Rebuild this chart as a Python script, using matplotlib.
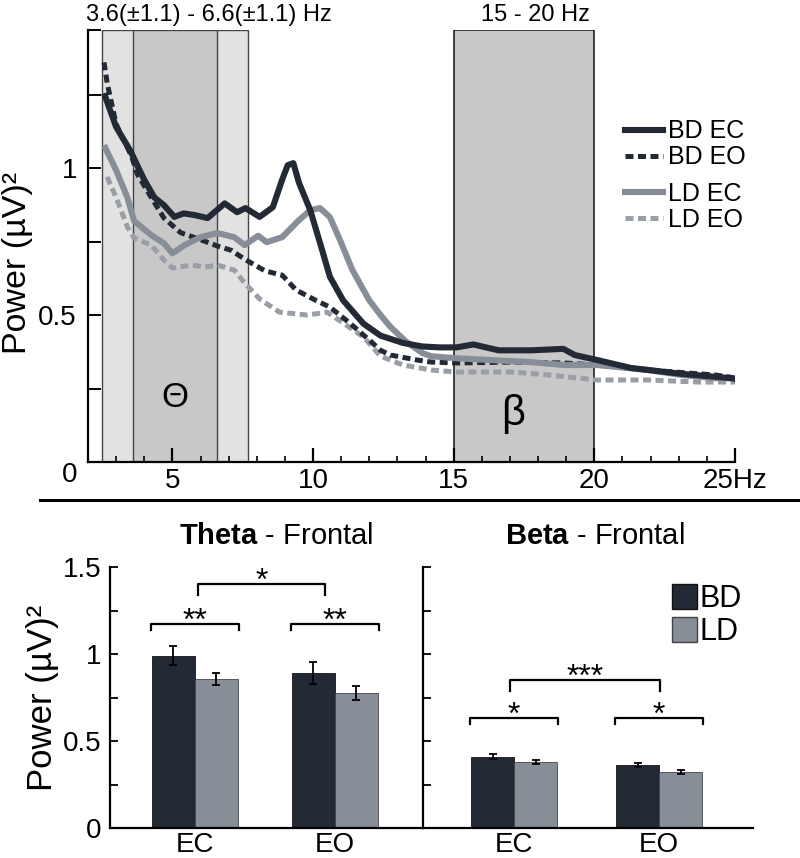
import matplotlib
matplotlib.use("Agg")
import matplotlib.pyplot as plt
from matplotlib.lines import Line2D
from matplotlib.patches import Patch
import numpy as np

plt.rcParams['font.family'] = ['Liberation Sans', 'DejaVu Sans']
plt.rcParams['mathtext.fontset'] = 'custom'
plt.rcParams['mathtext.rm'] = 'Liberation Sans'
plt.rcParams['mathtext.bf'] = 'Liberation Sans:bold'

# ---------------- data: spectra ----------------
bd_ec_hz = [2.57, 3.0, 3.5, 4.0, 4.36, 4.7, 5.07, 5.4, 5.8, 6.25, 6.86, 7.3, 7.6, 8.1, 8.57,
            8.9, 9.1, 9.3, 9.5, 9.9, 10.25, 10.6, 11.07, 11.8, 12.4, 13.2, 13.9, 14.5, 15.1,
            15.7, 16.6, 17.75, 18.9, 19.3, 20.1, 21.3, 23.1, 24.9, 25.1]
bd_ec_pw = [1.255, 1.14, 1.06, 0.96, 0.90, 0.874, 0.834, 0.846, 0.84, 0.83, 0.88, 0.85, 0.864,
            0.834, 0.867, 0.96, 1.01, 1.017, 0.95, 0.857, 0.745, 0.63, 0.55, 0.47, 0.43, 0.405,
            0.393, 0.39, 0.39, 0.40, 0.38, 0.38, 0.385, 0.364, 0.347, 0.32, 0.30, 0.285, 0.28]

bd_eo_hz = [2.57, 2.68, 3.0, 3.55, 3.75, 4.25, 4.7, 5.3, 5.9, 6.6, 7.1, 7.57, 8.3, 8.9, 9.4,
            10.1, 10.6, 11.3, 12.0, 12.4, 12.75, 13.7, 14.2, 15.1, 17.1, 18.9, 20.1, 21.9,
            24.3, 25.1]
bd_eo_pw = [1.36, 1.29, 1.15, 1.04, 0.98, 0.90, 0.83, 0.78, 0.76, 0.735, 0.72, 0.69, 0.65,
            0.636, 0.585, 0.55, 0.527, 0.473, 0.415, 0.38, 0.364, 0.347, 0.34, 0.337, 0.34,
            0.337, 0.33, 0.313, 0.296, 0.285]

ld_ec_hz = [2.57, 3.0, 3.4, 3.64, 4.25, 4.7, 5.0, 5.43, 6.0, 6.6, 7.2, 7.57, 8.05, 8.35, 8.9,
            9.5, 9.9, 10.25, 10.6, 10.96, 11.4, 12.0, 12.4, 12.75, 13.3, 13.9, 14.2, 15.1,
            16.3, 17.75, 18.9, 20.1, 21.9, 23.1, 24.3, 25.1]
ld_ec_pw = [1.078, 0.993, 0.90, 0.82, 0.772, 0.744, 0.71, 0.738, 0.765, 0.779, 0.765, 0.738,
            0.77, 0.748, 0.765, 0.823, 0.857, 0.864, 0.833, 0.755, 0.653, 0.55, 0.50, 0.46,
            0.41, 0.37, 0.36, 0.353, 0.347, 0.34, 0.33, 0.33, 0.313, 0.296, 0.285, 0.285]

ld_eo_hz = [2.68, 3.0, 3.4, 3.64, 4.25, 4.7, 5.0, 5.7, 6.14, 6.6, 7.2, 7.57, 8.1, 8.8, 9.8,
            10.5, 11.07, 11.8, 12.4, 13.2, 14.2, 15.1, 17.1, 18.4, 19.5, 20.1, 21.9, 23.7, 25.1]
ld_eo_pw = [0.97, 0.90, 0.80, 0.762, 0.738, 0.687, 0.66, 0.67, 0.663, 0.67, 0.653, 0.609,
            0.555, 0.51, 0.50, 0.51, 0.473, 0.425, 0.36, 0.33, 0.313, 0.306, 0.306, 0.296,
            0.285, 0.279, 0.279, 0.272, 0.272]

theta_band = (3.6, 6.6)
theta_sd = 1.1
beta_band = (15, 20)

# ---------------- data: bars ----------------
conditions = ["EC", "EO"]
groups = ["BD", "LD"]
theta_bd = [0.99, 0.89]
theta_bd_err = [0.055, 0.065]
theta_ld = [0.856, 0.776]
theta_ld_err = [0.037, 0.04]
beta_bd = [0.41, 0.36]
beta_bd_err = [0.015, 0.012]
beta_ld = [0.38, 0.32]
beta_ld_err = [0.01, 0.012]

theta_within_sig = ["**", "**"]
theta_cross_sig = "*"
beta_within_sig = ["*", "*"]
beta_cross_sig = "***"

DARK = "#232a35"
GRAY = "#878e97"
LGRAY = "#9a9fa7"

W, H = 800, 858
fig = plt.figure(figsize=(W / 100, H / 100), dpi=100)

# ---------------- top spectrum panel ----------------
ax = fig.add_axes([88 / W, (H - 462) / H, 647 / W, 432 / H])
ax.set_xlim(2, 25)
ax.set_ylim(0, 1.47)

lo, hi = theta_band
ax.axvspan(lo - theta_sd, hi + theta_sd, ymin=0, ymax=1, facecolor="#e2e2e2",
           edgecolor="#444444", lw=1.0, zorder=0)
ax.axvspan(lo, hi, facecolor="#c8c8c8", edgecolor="#444444", lw=1.0, zorder=0.5)
ax.axvspan(beta_band[0], beta_band[1], facecolor="#c8c8c8", edgecolor="#222222",
           lw=1.2, zorder=0)

dash = (0, (1.6, 0.9))
ax.plot(ld_eo_hz, ld_eo_pw, color=LGRAY, lw=3.6, ls=dash, zorder=2)
ax.plot(bd_eo_hz, bd_eo_pw, color=DARK, lw=3.6, ls=dash, zorder=3)
ax.plot(ld_ec_hz, ld_ec_pw, color=GRAY, lw=4.4, zorder=4, solid_capstyle='butt')
ax.plot(bd_ec_hz, bd_ec_pw, color=DARK, lw=4.4, zorder=5, solid_capstyle='butt')

for s in ["top", "right"]:
    ax.spines[s].set_visible(False)
for s in ["left", "bottom"]:
    ax.spines[s].set_linewidth(1.6)
    ax.spines[s].set_zorder(6)

ax.set_xticks([5, 10, 15, 20, 25])
ax.set_xticklabels(["5", "10", "15", "20", "25Hz"])
ax.set_xticks(list(range(3, 25)), minor=True)
ax.tick_params(axis="x", which="major", direction="in", length=10, width=1.6,
               labelsize=20, pad=4)
ax.tick_params(axis="x", which="minor", direction="in", length=4, width=1.2)
yt = [0, 0.25, 0.5, 0.75, 1.0, 1.25, 1.47]
ax.set_yticks(yt)
ax.set_yticklabels(["0", "", "0.5", "", "1", "", ""])
ax.tick_params(axis="y", direction="in", length=9, width=1.4, labelsize=20, pad=8)
ax.get_yticklabels()[0].set_va("top")
ax.set_ylabel("Power (µV)²", fontsize=24.5)
ax.yaxis.set_label_coords(-0.085, 0.46)

ax.text(6.3, 1.485, "3.6(±1.1) - 6.6(±1.1) Hz", ha="center", va="bottom", fontsize=17)
ax.text(17.9, 1.485, "15 - 20 Hz", ha="center", va="bottom", fontsize=17)
ax.text(5.1, 0.22, "Θ", ha="center", va="center", fontsize=25)
ax.text(17.1, 0.165, "β", ha="center", va="center", fontsize=30)

h1 = [Line2D([], [], color=DARK, lw=4.4), Line2D([], [], color=DARK, lw=3.6, ls=dash)]
h2 = [Line2D([], [], color=GRAY, lw=4.4), Line2D([], [], color=LGRAY, lw=3.6, ls=dash)]
leg_kw = dict(loc="upper left", frameon=False, fontsize=18, handlelength=1.5,
              handletextpad=0.2, labelspacing=0.08, borderaxespad=0, borderpad=0)
leg1 = ax.legend(h1, ["BD EC", "BD EO"], bbox_to_anchor=(0.83, 0.793), **leg_kw)
ax.add_artist(leg1)
ax.legend(h2, ["LD EC", "LD EO"], bbox_to_anchor=(0.83, 0.648), **leg_kw)

# separator line
fig.add_artist(Line2D([40 / W, 1.0], [(H - 500) / H, (H - 500) / H], color="black",
                      lw=2.2, transform=fig.transFigure))

# ---------------- bottom bar panels ----------------
def bar_panel(axb, bd, bde, ld, lde, width, within, cross, within_h, cross_h,
              cross_x, tick_len, showlabels):
    x = np.arange(len(conditions))
    axb.bar(x - width / 2, bd, width, color=DARK, edgecolor="#111111", lw=0.6, zorder=2)
    axb.bar(x + width / 2, ld, width, color=GRAY, edgecolor="#444444", lw=0.6, zorder=2)
    axb.errorbar(x - width / 2, bd, yerr=bde, fmt="none", ecolor="black", elinewidth=1.3,
                 capsize=3, capthick=1.3, zorder=3)
    axb.errorbar(x + width / 2, ld, yerr=lde, fmt="none", ecolor="black", elinewidth=1.3,
                 capsize=3, capthick=1.3, zorder=3)
    for i, s in enumerate(within):
        x0, x1 = x[i] - width - 0.005, x[i] + width + 0.005
        axb.plot([x0, x0, x1, x1], [within_h - tick_len, within_h, within_h,
                                    within_h - tick_len], color="black", lw=1.6)
        axb.annotate(s, xy=((x0 + x1) / 2, within_h), xytext=(0, -4),
                     textcoords="offset points", ha="center", va="baseline", fontsize=23)
    c0, c1 = cross_x
    axb.plot([c0, c0, c1, c1], [cross_h - 2 * tick_len, cross_h, cross_h,
                                cross_h - 2 * tick_len], color="black", lw=1.6)
    axb.annotate(cross, xy=((c0 + c1) / 2, cross_h), xytext=(0, -4),
                 textcoords="offset points", ha="center", va="baseline", fontsize=23)
    axb.set_ylim(0, 1.5)
    axb.set_xticks(x)
    axb.set_xticklabels(conditions)
    axb.tick_params(axis="x", length=0, labelsize=20, pad=3)
    axb.set_yticks(np.arange(0, 1.51, 0.25))
    if showlabels:
        axb.set_yticklabels(["0", "", "0.5", "", "1", "", "1.5"])
    else:
        axb.set_yticklabels([])
    axb.tick_params(axis="y", direction="in", length=6, width=1.3, labelsize=20, pad=6)
    for s in ["top", "right"]:
        axb.spines[s].set_visible(False)
    for s in ["left", "bottom"]:
        axb.spines[s].set_linewidth(1.6)
    axb.patch.set_alpha(0)

ax2 = fig.add_axes([110 / W, 30 / H, 313 / W, 261 / H])
ax2.set_xlim(-0.607, 1.63)
bar_panel(ax2, theta_bd, theta_bd_err, theta_ld, theta_ld_err, 0.307,
          theta_within_sig, theta_cross_sig, 1.17, 1.40, (0.02, 0.93), 0.03, True)
ax2.set_ylabel("Power (µV)²", fontsize=25, labelpad=3)
ax2.text(0.53, 1.12, r"$\bf{Theta}$ - Frontal", transform=ax2.transAxes,
         ha="center", va="center", fontsize=21)

ax3 = fig.add_axes([423 / W, 30 / H, 330 / W, 261 / H])
ax3.set_xlim(-0.628, 1.648)
bar_panel(ax3, beta_bd, beta_bd_err, beta_ld, beta_ld_err, 0.297,
          beta_within_sig, beta_cross_sig, 0.63, 0.85, (-0.03, 1.01), 0.03, False)
ax3.text(0.52, 1.12, r"$\bf{Beta}$ - Frontal", transform=ax3.transAxes,
         ha="center", va="center", fontsize=21)
ax3.legend([Patch(facecolor=DARK, edgecolor="#111111"),
            Patch(facecolor=GRAY, edgecolor="#444444")], groups,
           loc="upper left", bbox_to_anchor=(0.755, 0.935), frameon=False, fontsize=22,
           handlelength=0.8, handleheight=0.85, handletextpad=0.1, labelspacing=0.1,
           borderaxespad=0, borderpad=0)

fig.savefig("out.png", dpi=100)
